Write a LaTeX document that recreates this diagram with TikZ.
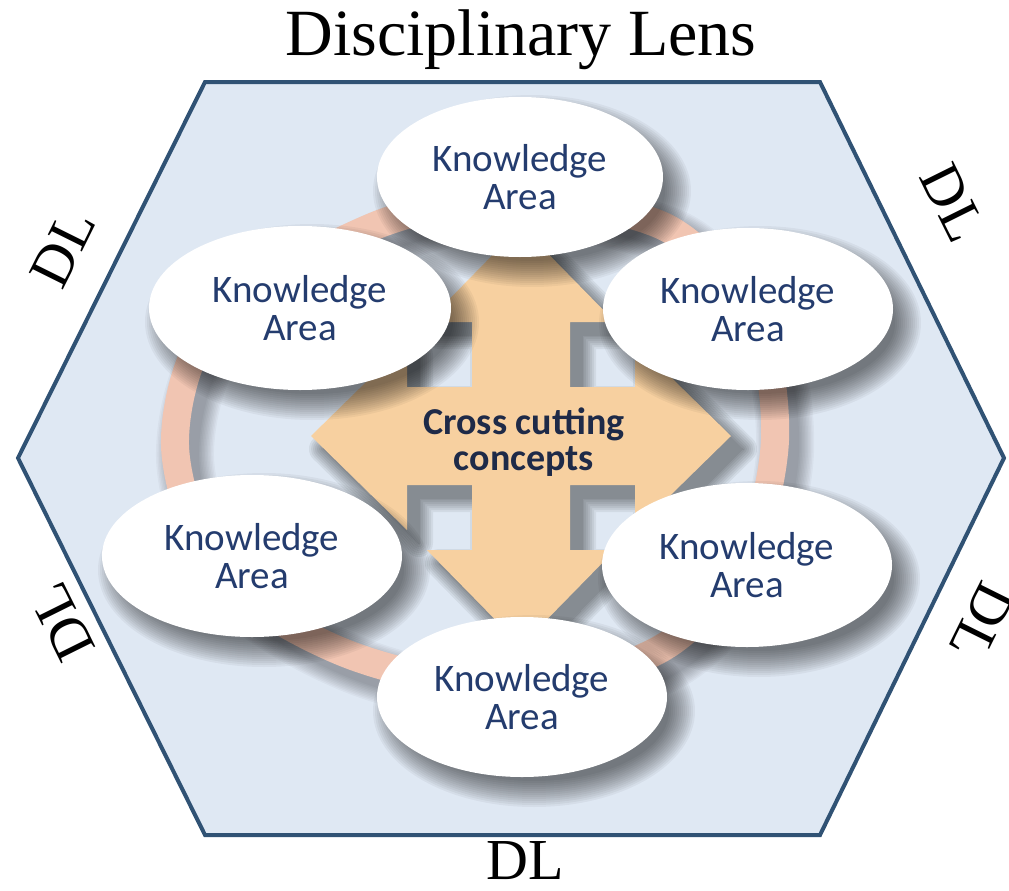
\documentclass[tikz,border=0pt]{standalone}
\usepackage{fontspec}
\setmainfont{Liberation Serif}
\newfontfamily\kafont{Carlito}
\usetikzlibrary{shapes.geometric}
\definecolor{hexfill}{RGB}{223,232,243}
\definecolor{hexline}{RGB}{48,82,116}
\definecolor{ringc}{RGB}{241,197,178}
\definecolor{crossc}{RGB}{247,208,160}
\definecolor{katext}{RGB}{36,60,110}
\definecolor{cctext}{RGB}{30,42,72}
\newcommand\kashadow[4]{%
  \foreach \d in {-10,-8,...,16} {
    \fill[black, opacity=0.042] ({#1+12},{#2+14}) ellipse [x radius={#3+\d}, y radius={#4+\d}];
  }}
\begin{document}
\begin{tikzpicture}[x=1pt,y=-1pt,
  kabox/.style={ellipse, fill=white, inner sep=0pt, text=katext, align=center,
     font=\kafont\fontsize{39}{38}\selectfont},
  dllabel/.style={font=\fontsize{58}{60}\selectfont, inner sep=0pt},
  crosspic/.pic={\path[pic actions] (0,-210) -- (94,-114) -- (49,-114) -- (49,-49) -- (114,-49) -- (114,-94) -- (210,0) -- (114,94) -- (114,49) -- (49,49) -- (49,114) -- (94,114) -- (0,210) -- (-94,114) -- (-49,114) -- (-49,49) -- (-114,49) -- (-114,94) -- (-210,0) -- (-114,-94) -- (-114,-49) -- (-49,-49) -- (-49,-114) -- (-94,-114) -- cycle;},
  ringpic/.pic={\path[pic actions] plot[smooth cycle] coordinates {(175,445) (215,320) (377,225) (520,198) (667,228) (755,320) (775,440) (745,560) (662,648) (520,690) (350,655) (220,575)};}
]
\useasboundingbox (0,0) rectangle (1009,891);
% hexagon
\coordinate (h1) at (205,82);
\coordinate (h2) at (820,82);
\coordinate (h3) at (1004,458);
\coordinate (h4) at (820,835);
\coordinate (h5) at (205,835);
\coordinate (h6) at (18,458);
\draw[hexline, line width=4pt, fill=hexfill] (h1) -- (h2) -- (h3) -- (h4) -- (h5) -- (h6) -- cycle;
% ring
\foreach \w in {58,55,...,28} {
  \pic[draw=black, draw opacity=0.032, line width=\w pt] at (10,12) {ringpic};
}
\pic[draw=ringc, line width=28pt] at (0,0) {ringpic};
% cross shadow and cross
\foreach \w in {0,4,...,28} {
  \begin{scope}[transparency group, opacity=0.06]
    \pic[fill=black, draw=black, line width=\w pt, line join=round] at (533,449) {crosspic};
  \end{scope}
}
\pic[fill=crossc] (cross) at (521,436) {crosspic};
\node[font=\kafont\bfseries\fontsize{38}{36}\selectfont, text=cctext, align=center, inner sep=0pt] (cc) at (524,442) {Cross cutting\\concepts};
% knowledge areas
\kashadow{520}{177}{143}{80}
\node[kabox, minimum width=286pt, minimum height=160pt] (ka1) at (520,177) {Knowledge\\Area};
\kashadow{300}{308}{151}{82}
\node[kabox, minimum width=302pt, minimum height=164pt] (ka2) at (300,308) {Knowledge\\Area};
\kashadow{748}{309}{145}{81}
\node[kabox, minimum width=290pt, minimum height=162pt] (ka3) at (748,309) {Knowledge\\Area};
\kashadow{252}{556}{150}{81}
\node[kabox, minimum width=300pt, minimum height=162pt] (ka4) at (252,556) {Knowledge\\Area};
\kashadow{747}{565}{145}{82}
\node[kabox, minimum width=290pt, minimum height=164pt] (ka5) at (747,565) {Knowledge\\Area};
\kashadow{522}{697}{145}{80}
\node[kabox, minimum width=290pt, minimum height=160pt] (ka6) at (522,697) {Knowledge\\Area};
% labels
\node[font=\fontsize{66}{70}\selectfont, anchor=base, inner sep=0pt] (title) at (521,56) {Disciplinary Lens};
\node[dllabel, rotate=63.6] (dltl) at (63,248) {DL};
\node[dllabel, rotate=-63.6] (dltr) at (953,203) {DL};
\node[dllabel, rotate=116.4] (dlbl) at (62,622) {DL};
\node[dllabel, rotate=-116.4] (dlbr) at (982,622) {DL};
\node[dllabel] (dlb) at (525,861) {DL};
\end{tikzpicture}
\end{document}
